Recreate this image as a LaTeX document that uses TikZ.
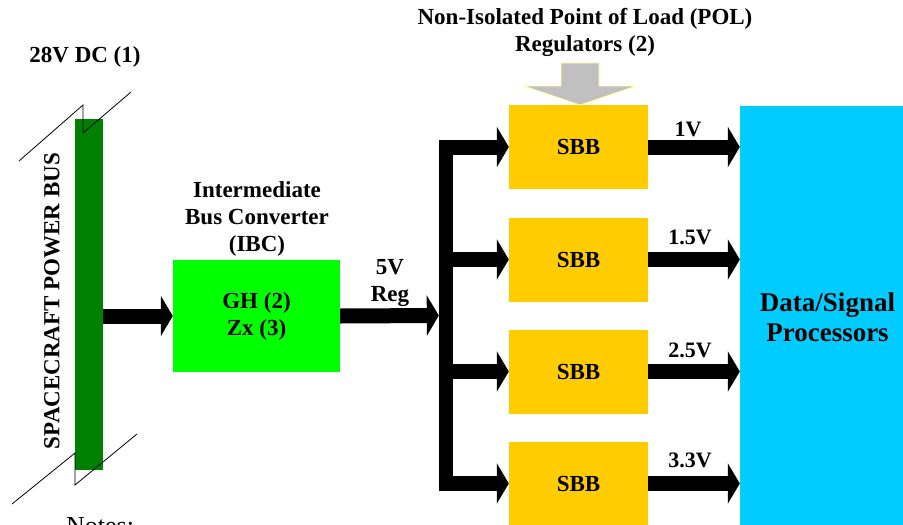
\documentclass[tikz,border=0pt]{standalone}
\usepackage{fontspec}
\setmainfont{Liberation Serif}
\usetikzlibrary{arrows.meta}
\definecolor{busgreen}{HTML}{008000}
\definecolor{ibcgreen}{HTML}{00FF00}
\definecolor{sbbyellow}{HTML}{FFCC00}
\definecolor{dspblue}{HTML}{00CCFF}
\definecolor{polgray}{HTML}{C0C0C0}
\definecolor{paleyellow}{HTML}{FFFF99}
\begin{document}
\begin{tikzpicture}[x=1pt,y=-1pt,
  blk/.style={rectangle, inner sep=0pt, draw=none},
  lbl/.style={font=\bfseries\fontsize{23}{27}\selectfont, align=center, inner sep=0pt},
  vlbl/.style={font=\bfseries\fontsize{22}{26}\selectfont, inner sep=0pt},
  fat/.style={line width=15pt, -{Triangle[width=40pt,length=12pt]}},
  brk/.style={line width=0.8pt}
]
\clip (0,0) rectangle (903,525);
\fill[white] (0,0) rectangle (903,525);

% blocks
\node[blk, fill=busgreen, minimum width=28pt, minimum height=351pt] (bus) at (89,294.5) {};
\node[blk, fill=ibcgreen, minimum width=167pt, minimum height=112pt] (ibc) at (256.5,316) {};
\node[blk, fill=black, minimum width=14pt, minimum height=351pt] (vbar) at (446,315.5) {};
\node[blk, fill=sbbyellow, minimum width=139pt, minimum height=84pt] (sbb1) at (578.5,147) {};
\node[blk, fill=sbbyellow, minimum width=139pt, minimum height=84pt] (sbb2) at (578.5,259.5) {};
\node[blk, fill=sbbyellow, minimum width=139pt, minimum height=84pt] (sbb3) at (578.5,371.5) {};
\node[blk, fill=sbbyellow, minimum width=139pt, minimum height=84pt] (sbb4) at (578.5,483.5) {};
\node[blk, fill=dspblue, minimum width=175pt, minimum height=422pt] (dsp) at (827.5,317) {};

% texts in blocks
\node[lbl] (ibctext) at (ibc.center) {GH (2)\\Zx (3)};
\node[lbl] (s1) at (sbb1.center) {SBB};
\node[lbl] (s2) at (sbb2.center) {SBB};
\node[lbl] (s3) at (sbb3.center) {SBB};
\node[lbl] (s4) at (sbb4.center) {SBB};
\node[lbl, font=\bfseries\fontsize{27}{30}\selectfont] (dsptext) at (dsp.center) {Data/Signal\\Processors};

% break marks of the bus
\draw[brk] (19,161) -- (83,105) -- (83,133) -- (131,92);
\draw[brk] (12,504) -- (75,453) -- (75,485) -- (137,434);

% labels
\node[lbl, rotate=90] (bustext) at (52,301) {SPACECRAFT POWER BUS};
\node[lbl] (dc) at (85,57) {28V DC (1)};
\node[lbl] (ibclbl) at (257,219) {Intermediate\\Bus Converter\\(IBC)};
\node[lbl] (pollbl) at (585,32) {Non-Isolated Point of Load (POL)\\Regulators (2)};
\node[lbl] (reg) at (390,283) {5V\\Reg};
\node[vlbl] (v1) at (688,129) {1V};
\node[vlbl] (v2) at (690,237) {1.5V};
\node[vlbl] (v3) at (690,350) {2.5V};
\node[vlbl] (v4) at (690,460) {3.3V};
\node[anchor=base west, inner sep=0pt, font=\fontsize{26}{30}\selectfont] (notes) at (66,534) {Notes:};

% gray arrow
\draw[fill=polgray, draw=paleyellow, line width=0.8pt]
  (561,63) -- (599,63) -- (599,86) -- (636,86) -- (580,105) -- (524,86) -- (561,86) -- cycle;

% fat arrows
\draw[fat] (bus.east |- ibc.west) -- (ibc.west);
\draw[fat] (ibc.east) -- (vbar.west);
\foreach \s in {sbb1,sbb2,sbb3,sbb4}{
  \draw[fat] (vbar.east |- \s.west) -- (\s.west);
  \draw[fat] (\s.east) -- (dsp.west |- \s.east);
}
\end{tikzpicture}
\end{document}
